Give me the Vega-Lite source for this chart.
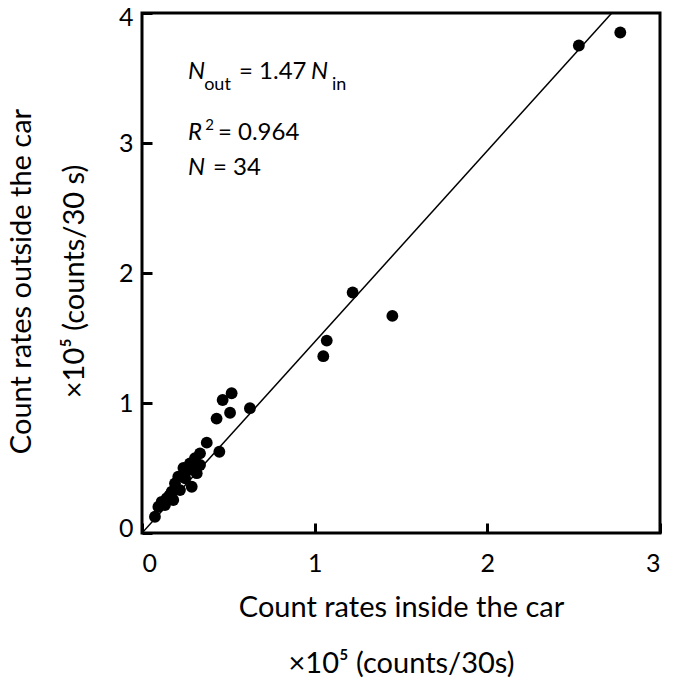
{
  "$schema": "https://vega.github.io/schema/vega-lite/v6.json",
  "width": 518,
  "height": 520,
  "autosize": "none",
  "padding": {"left": 142, "top": 13, "right": 16, "bottom": 151},
  "background": "white",
  "config": {
    "view": {"stroke": "black", "strokeWidth": 3},
    "font": "Lato",
    "axis": {
      "domain": false,
      "grid": false,
      "ticks": true,
      "tickColor": "black",
      "tickWidth": 3,
      "tickSize": -10,
      "labelFont": "Lato",
      "labelFontSize": 25,
      "labelColor": "black",
      "titleFont": "Lato",
      "titleFontSize": 29,
      "titleFontWeight": "normal",
      "titleColor": "black"
    }
  },
  "datasets": {
    "pts": [
      {"xin": 2.53, "yout": 3.75}, {"xin": 2.77, "yout": 3.85},
      {"xin": 1.22, "yout": 1.85}, {"xin": 1.45, "yout": 1.67},
      {"xin": 1.07, "yout": 1.48}, {"xin": 1.05, "yout": 1.36},
      {"xin": 0.519, "yout": 1.075}, {"xin": 0.467, "yout": 1.023},
      {"xin": 0.51, "yout": 0.925}, {"xin": 0.625, "yout": 0.96},
      {"xin": 0.432, "yout": 0.88}, {"xin": 0.375, "yout": 0.695},
      {"xin": 0.448, "yout": 0.625}, {"xin": 0.336, "yout": 0.613},
      {"xin": 0.307, "yout": 0.575}, {"xin": 0.278, "yout": 0.536},
      {"xin": 0.336, "yout": 0.523}, {"xin": 0.268, "yout": 0.485},
      {"xin": 0.317, "yout": 0.46}, {"xin": 0.288, "yout": 0.356},
      {"xin": 0.21, "yout": 0.433}, {"xin": 0.191, "yout": 0.382},
      {"xin": 0.22, "yout": 0.33}, {"xin": 0.172, "yout": 0.318},
      {"xin": 0.143, "yout": 0.267}, {"xin": 0.181, "yout": 0.254},
      {"xin": 0.114, "yout": 0.24}, {"xin": 0.095, "yout": 0.202},
      {"xin": 0.133, "yout": 0.215}, {"xin": 0.075, "yout": 0.125},
      {"xin": 0.25, "yout": 0.42}, {"xin": 0.30, "yout": 0.50},
      {"xin": 0.24, "yout": 0.50}, {"xin": 0.16, "yout": 0.29}
    ],
    "fit": [{"xin": 0, "yout": 0}, {"xin": 2.721, "yout": 4}],
    "italic": [
      {"xin": 0.266, "yout": 3.546, "t": "N"},
      {"xin": 0.979, "yout": 3.546, "t": "N"},
      {"xin": 0.266, "yout": 3.077, "t": "R"},
      {"xin": 0.266, "yout": 2.808, "t": "N"}
    ],
    "plain": [
      {"xin": 0.562, "yout": 3.546, "t": "= 1.47"},
      {"xin": 0.44, "yout": 3.077, "t": "= 0.964"},
      {"xin": 0.411, "yout": 2.808, "t": "= 34"}
    ],
    "sub": [
      {"xin": 0.36, "yout": 3.446, "t": "out"},
      {"xin": 1.1, "yout": 3.446, "t": "in"}
    ],
    "sup": [
      {"xin": 0.367, "yout": 3.14, "t": "2"}
    ]
  },
  "layer": [
    {
      "data": {"name": "fit"},
      "mark": {"type": "line", "color": "black", "strokeWidth": 1.5, "clip": true},
      "encoding": {
        "x": {
          "field": "xin", "type": "quantitative",
          "scale": {"domain": [0, 3], "nice": false, "zero": true},
          "axis": {
            "values": [0, 1, 2, 3],
            "format": "d",
            "labelPadding": 28,
            "title": ["Count rates inside the car", "×10⁵ (counts/30s)"],
            "titleY": 60,
            "titleLineHeight": 56
          }
        },
        "y": {
          "field": "yout", "type": "quantitative",
          "scale": {"domain": [0, 4], "nice": false},
          "axis": {
            "values": [0, 1, 2, 3, 4],
            "format": "d",
            "labelPadding": 19,
            "labelFlush": true,
            "labelFlushOffset": 8,
            "title": ["Count rates outside the car", "×10⁵ (counts/30 s)"],
            "titleX": -106,
            "titleY": 268,
            "titleLineHeight": 53
          }
        }
      }
    },
    {
      "data": {"name": "pts"},
      "mark": {"type": "circle", "color": "black", "size": 140, "opacity": 1},
      "encoding": {
        "x": {"field": "xin", "type": "quantitative"},
        "y": {"field": "yout", "type": "quantitative"}
      }
    },
    {
      "data": {"name": "italic"},
      "mark": {"type": "text", "align": "left", "baseline": "middle", "fontSize": 24, "fontStyle": "italic", "color": "black"},
      "encoding": {
        "x": {"field": "xin", "type": "quantitative"},
        "y": {"field": "yout", "type": "quantitative"},
        "text": {"field": "t"}
      }
    },
    {
      "data": {"name": "plain"},
      "mark": {"type": "text", "align": "left", "baseline": "middle", "fontSize": 24, "color": "black"},
      "encoding": {
        "x": {"field": "xin", "type": "quantitative"},
        "y": {"field": "yout", "type": "quantitative"},
        "text": {"field": "t"}
      }
    },
    {
      "data": {"name": "sub"},
      "mark": {"type": "text", "align": "left", "baseline": "middle", "fontSize": 18, "color": "black"},
      "encoding": {
        "x": {"field": "xin", "type": "quantitative"},
        "y": {"field": "yout", "type": "quantitative"},
        "text": {"field": "t"}
      }
    },
    {
      "data": {"name": "sup"},
      "mark": {"type": "text", "align": "left", "baseline": "middle", "fontSize": 15, "color": "black"},
      "encoding": {
        "x": {"field": "xin", "type": "quantitative"},
        "y": {"field": "yout", "type": "quantitative"},
        "text": {"field": "t"}
      }
    }
  ]
}
